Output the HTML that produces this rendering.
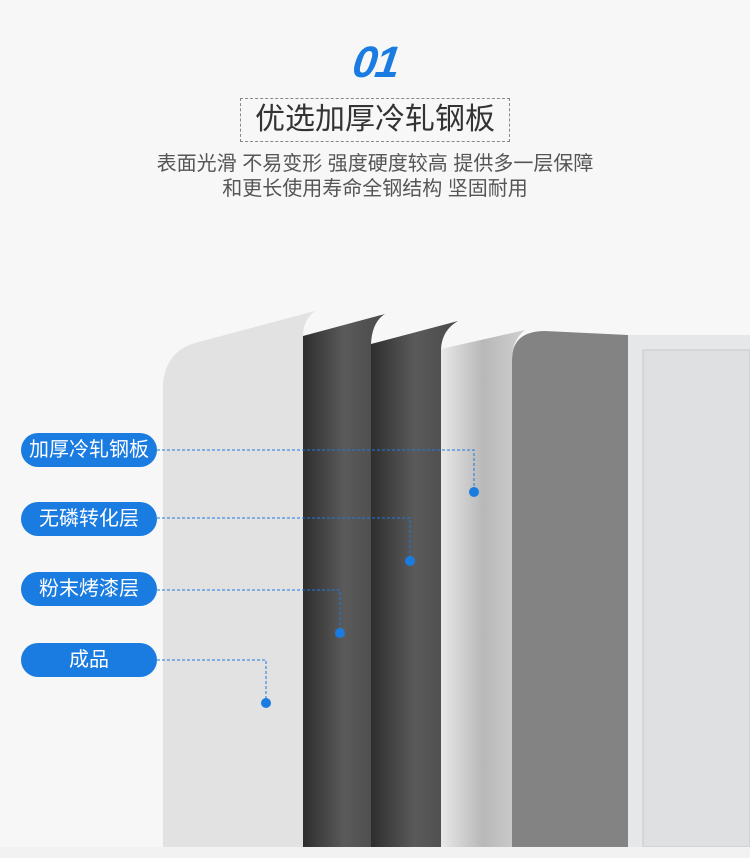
<!DOCTYPE html>
<html><head><meta charset="utf-8"><style>
body{margin:0;width:750px;height:858px;background:#f7f7f7;overflow:hidden;position:relative;font-family:"Liberation Sans","Noto Sans CJK SC",sans-serif}
.n{position:absolute;left:353px;top:38px;width:50px;font:italic bold 44px "Liberation Sans",sans-serif;color:#1a7be0;letter-spacing:-2px;transform:skewX(-8deg)}
.box{position:absolute;left:240px;top:98px;width:268px;height:42px;border:1px dashed #888;text-align:center;font-size:30px;line-height:42px;color:#333}
.sub{position:absolute;left:0;width:750px;text-align:center;font-size:20px;color:#555;line-height:25px}
.pill{position:absolute;left:21px;width:136px;height:34px;border-radius:17px;background:#1a7be0;color:#fff;font-size:20px;line-height:34px;text-align:center}
svg{position:absolute;left:0;top:0}
</style></head><body>
<div class="n">01</div>
<div class="box">优选加厚冷轧钢板</div>
<div class="sub" style="top:152px">表面光滑 不易变形 强度硬度较高 提供多一层保障</div>
<div class="sub" style="top:177px">和更长使用寿命全钢结构 坚固耐用</div>
<svg width="750" height="858">
<defs>
<linearGradient id="si" x1="0" x2="1"><stop offset="0" stop-color="#e8e8e8"/><stop offset=".5" stop-color="#b8b8b8"/><stop offset="1" stop-color="#d0d0d0"/></linearGradient>
<linearGradient id="d1" x1="0" x2="1"><stop offset="0" stop-color="#2e2e2e"/><stop offset=".5" stop-color="#5a5a5a"/><stop offset="1" stop-color="#4a4a4a"/></linearGradient>
</defs>
<rect x="628" y="335" width="122" height="512" fill="#e6e7e9"/>
<rect x="643" y="350" width="107" height="497" fill="#dfe0e2" stroke="#c8c8c8"/>
<path d="M512 847 V360 Q512 331 545 331 L628 335 V847Z" fill="#838383"/>
<path d="M441 847 V349 L525 330 Q512 340 512 360 V847Z" fill="url(#si)"/>
<path d="M371 847 V344 L458 321 Q442 330 441 349 V847Z" fill="url(#d1)"/>
<path d="M303 847 V336 L385 314 Q372 322 371 344 V847Z" fill="url(#d1)"/>
<path d="M163 847 V385 Q165 352 195 343 L315 311 Q303 320 303 336 V847Z" fill="#e2e2e2"/>
<rect x="0" y="847" width="750" height="11" fill="#f2f2f2"/>
<g stroke="#1a7be0" stroke-width="1" stroke-dasharray="3,2" fill="none">
<path d="M157 450 H474 V492"/>
<path d="M157 518 H410 V561"/>
<path d="M157 590 H340 V633"/>
<path d="M157 660 H266 V703"/>
</g>
<g fill="#1a7be0"><circle cx="474" cy="492" r="5"/><circle cx="410" cy="561" r="5"/><circle cx="340" cy="633" r="5"/><circle cx="266" cy="703" r="5"/></g>
</svg>
<div class="pill" style="top:433px">加厚冷轧钢板</div>
<div class="pill" style="top:502px">无磷转化层</div>
<div class="pill" style="top:572px">粉末烤漆层</div>
<div class="pill" style="top:643px">成品</div>
</body></html>
